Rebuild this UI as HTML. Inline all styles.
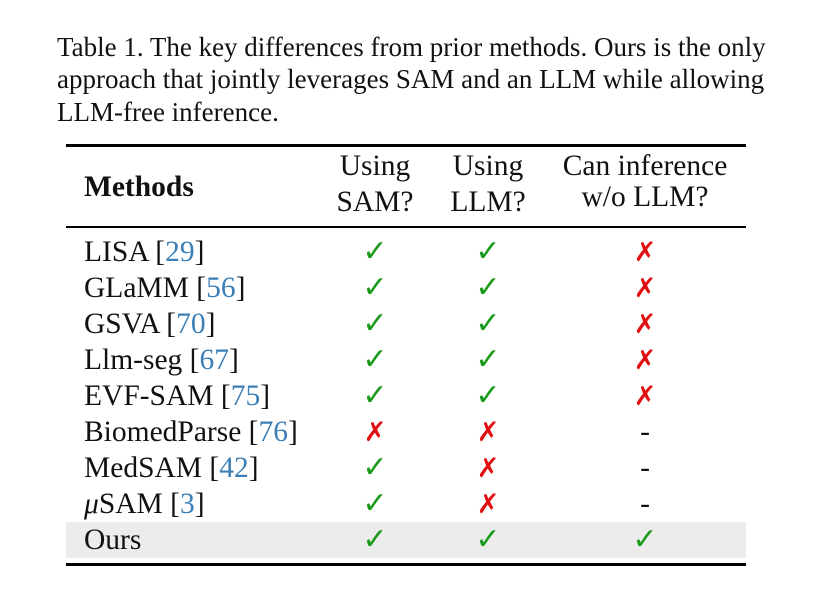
<!DOCTYPE html>
<html><head><meta charset="utf-8"><style>
body{margin:0;width:819px;height:594px;background:#fff;position:relative;font-family:"Liberation Serif",serif;color:#111;overflow:hidden}
.a{position:absolute;white-space:nowrap}
.cap{left:57px;font-size:27px;line-height:32px}
.rule{position:absolute;left:66px;width:680px;background:#000}
.cell{position:absolute;font-size:29.5px;line-height:36px;white-space:nowrap}
.c{transform:translateX(-50%);text-align:center}
.ref{color:#3b7fb6}
.ck{color:#1a9a1a;font-family:"DejaVu Sans",sans-serif;font-size:30px;font-weight:bold}
.x{color:#e01010;font-family:"DejaVu Sans",sans-serif;font-size:27px;font-weight:bold}
</style></head><body>
<div class="a cap" style="top:31px">Table 1. The key differences from prior methods. Ours is the only</div>
<div class="a cap" style="top:63px">approach that jointly leverages SAM and an LLM while allowing</div>
<div class="a cap" style="top:96px">LLM-free inference.</div>
<div class="rule" style="top:144px;height:3px"></div>
<div class="rule" style="top:226px;height:1.5px"></div>
<div style="position:absolute;left:66px;width:680px;top:522px;height:36px;background:#ececec"></div>
<div class="rule" style="top:563px;height:3px"></div>
<div class="cell" style="left:84px;top:169px;font-weight:bold">Methods</div>
<div class="cell c" style="left:375px;top:148px;line-height:36px">Using<br>SAM?</div>
<div class="cell c" style="left:488px;top:148px;line-height:36px">Using<br>LLM?</div>
<div class="cell c" style="left:645px;top:151px;line-height:31px">Can inference<br>w/o LLM?</div>
<script>
const methods=["LISA","GLaMM","GSVA","Llm-seg","EVF-SAM","BiomedParse","MedSAM","μSAM","Ours"];
const refs=["29","56","70","67","75","76","42","3",""];
const sam=["y","y","y","y","y","n","y","y","y"];
const llm=["y","y","y","y","y","n","n","n","y"];
const free=["n","n","n","n","n","-","-","-","y"];
const body=document.body;
function mark(v){return v==="y"?'<span class="ck">✓</span>':v==="n"?'<span class="x">✗</span>':'<span>-</span>';}
methods.forEach((m,i)=>{
  const top=234+i*36;
  const d=document.createElement('div');d.className='cell';d.style.left='84px';d.style.top=top+'px';
  
  
  let name=m==="μSAM"?'<i>μ</i>SAM':m;
  d.innerHTML=name+(refs[i]?' [<span class="ref">'+refs[i]+'</span>]':'');
  body.appendChild(d);
  [[sam,375,'sam-cell'],[llm,488,'llm-cell'],[free,645,'llm-free-cell']].forEach(([arr,x,n])=>{
    const c=document.createElement('div');c.className='cell c';c.style.left=x+'px';c.style.top=top+'px';
    
    
    c.innerHTML=mark(arr[i]);body.appendChild(c);
  });
});
</script>
</body></html>
